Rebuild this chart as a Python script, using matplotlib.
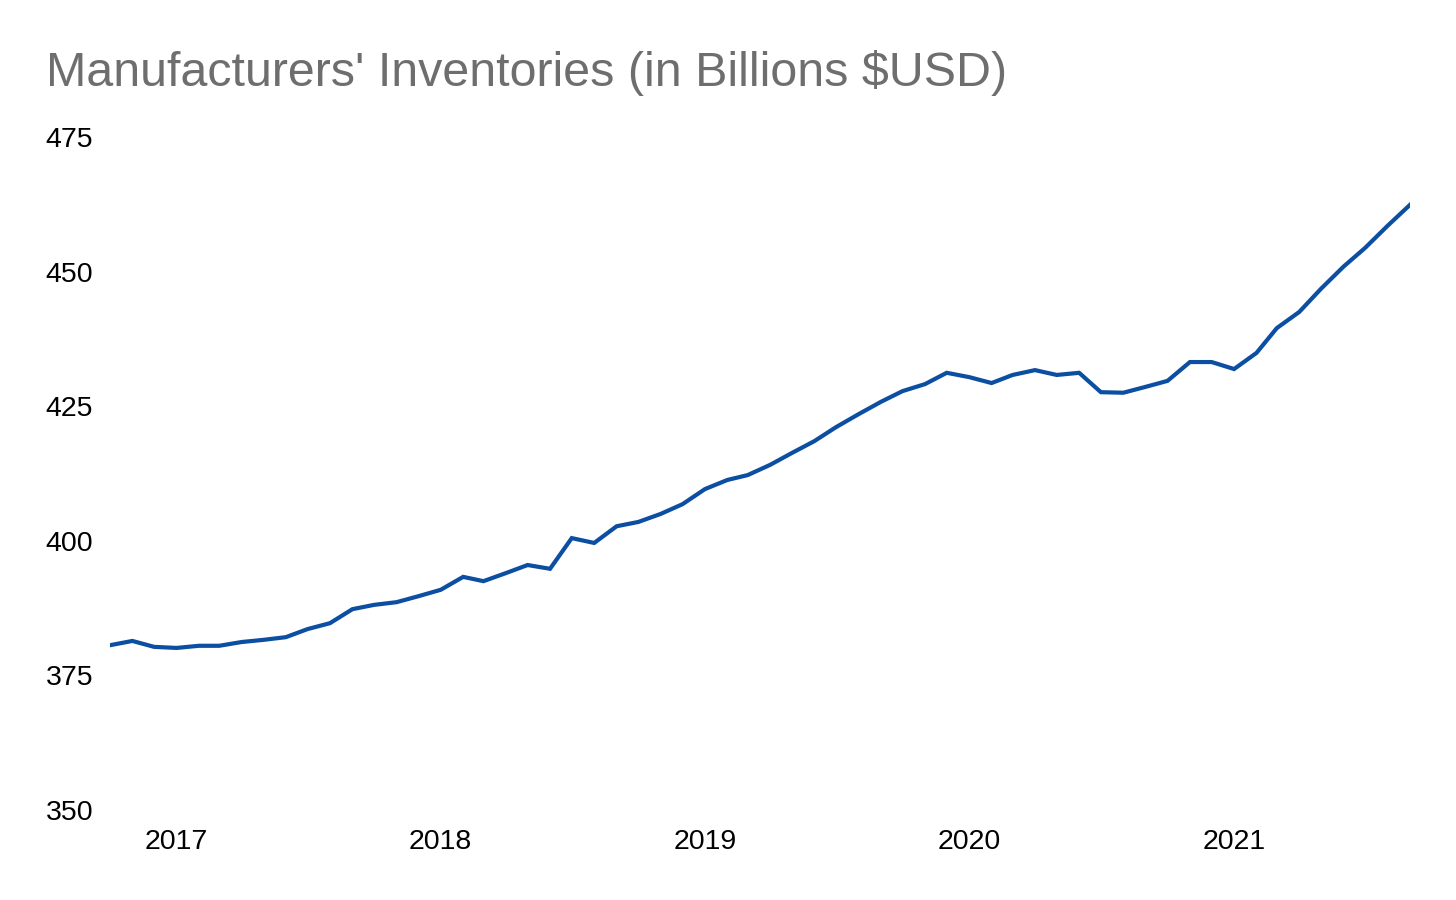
import matplotlib
matplotlib.use("Agg")
import matplotlib.pyplot as plt
import matplotlib.dates as mdates
import pandas as pd

# monthly, Oct 2016 .. Sep 2021
months = pd.date_range("2016-10-01", "2021-09-01", freq="MS")
inventories = [
    380.6, 381.4, 380.3, 380.1, 380.5, 380.5, 381.2, 381.6, 382.1, 383.6,
    384.7, 387.3, 388.1, 388.6, 389.7, 390.9, 393.3, 392.5, 394.0, 395.5,
    394.8, 400.5, 399.6, 402.7, 403.5, 405.0, 406.8, 409.6, 411.3, 412.2,
    414.1, 416.3, 418.5, 421.1, 423.5, 425.8, 427.8, 429.1, 431.2, 430.4,
    429.3, 430.8, 431.7, 430.8, 431.2, 427.6, 427.5, 428.6, 429.7, 433.2,
    433.2, 431.9, 434.9, 439.5, 442.5, 446.8, 450.9, 454.4, 458.5, 462.4,
]
yticks = [350, 375, 400, 425, 450, 475]
title = "Manufacturers' Inventories (in Billions $USD)"

plt.rcParams["font.family"] = ["Liberation Sans", "DejaVu Sans"]

fig = plt.figure(figsize=(14.56, 9.0), dpi=100)
ax = fig.add_axes([0.0755, 0.1, 0.8929, 0.7478])

ax.plot(months, inventories, color="#0b4ea2", lw=3, solid_joinstyle="miter")

ax.set_xlim(months[0], months[-1])
ax.set_ylim(350, 475)
ax.set_yticks(yticks)
ax.xaxis.set_major_locator(mdates.YearLocator())
ax.xaxis.set_major_formatter(mdates.DateFormatter("%Y"))

for s in ax.spines.values():
    s.set_visible(False)
ax.tick_params(axis="y", length=0, pad=12, labelsize=20.5, labelcolor="black")
ax.tick_params(axis="x", length=0, pad=13.5, labelsize=20.5, labelcolor="black")

fig.text(0.0316, 0.905, title, fontsize=34.8, color="#6e6e6e", ha="left", va="baseline")

fig.savefig("out.png", dpi=100, facecolor="white")
